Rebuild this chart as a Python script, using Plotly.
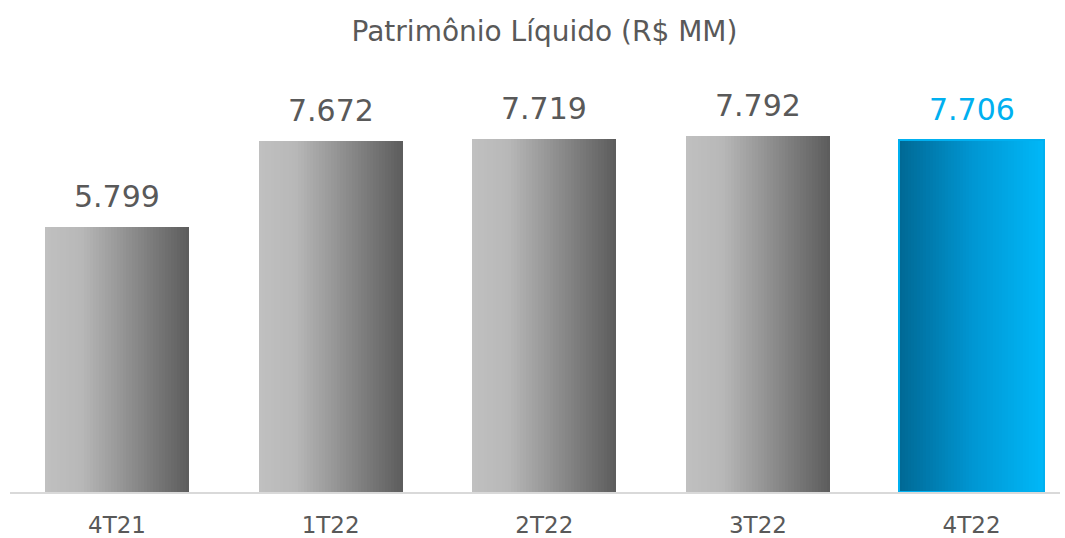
import plotly.graph_objects as go

categories = ["4T21", "1T22", "2T22", "3T22", "4T22"]
values = [5799, 7672, 7719, 7792, 7706]
labels = ["5.799", "7.672", "7.719", "7.792", "7.706"]
highlight = [False, False, False, False, True]

title = "Patrimônio Líquido (R$ MM)"
FONT = "DejaVu Sans"
TXT = "#595959"
BLUE = "#00b0f0"

gray_stops = [(0.0, (192, 192, 192)), (0.25, (184, 184, 184)), (1.0, (92, 92, 92))]
blue_stops = [(0.0, (0, 104, 148)), (0.5, (0, 150, 210)), (1.0, (0, 184, 248))]


def grad(stops, t):
    for (t0, c0), (t1, c1) in zip(stops[:-1], stops[1:]):
        if t0 <= t <= t1:
            f = 0 if t1 == t0 else (t - t0) / (t1 - t0)
            c = [round(a + (b - a) * f) for a, b in zip(c0, c1)]
            return "rgb(%d,%d,%d)" % tuple(c)
    c = stops[-1][1]
    return "rgb(%d,%d,%d)" % c


xs = list(range(len(categories)))
bw = 0.675
N = 48
sw = bw / N

fig = go.Figure()
for j in range(N):
    t = (j + 0.5) / N
    colors = [grad(blue_stops if h else gray_stops, t) for h in highlight]
    fig.add_trace(go.Bar(
        x=xs, y=values, width=sw * 1.2 if j < N - 1 else sw, offset=-bw / 2 + j * sw,
        marker=dict(color=colors, line=dict(width=0)),
        showlegend=False, hoverinfo="skip",
    ))

# outline for highlighted bar
fig.add_trace(go.Bar(
    x=xs, y=values, width=bw, offset=-bw / 2,
    marker=dict(color="rgba(0,0,0,0)",
                line=dict(color=[BLUE if h else "rgba(0,0,0,0)" for h in highlight],
                          width=[2 if h else 0 for h in highlight])),
    showlegend=False, hoverinfo="skip",
))

for x, v, lab, h in zip(xs, values, labels, highlight):
    fig.add_annotation(x=x, y=v, text=lab, showarrow=False, yanchor="bottom",
                       yshift=11, font=dict(family=FONT, size=30, color=BLUE if h else TXT))

fig.update_layout(
    width=1065, height=538,
    margin=dict(l=10, r=5, t=46, b=46, autoexpand=False),
    paper_bgcolor="white", plot_bgcolor="white",
    barmode="overlay", bargap=0,
    title=dict(text=title, x=544.5 / 1065, xanchor="center", xref="container",
               y=1 - 31 / 538, yanchor="middle", yref="container",
               font=dict(family=FONT, size=28, color=TXT)),
    xaxis=dict(range=[-0.5009, 4.414], tickmode="array", tickvals=xs, ticktext=categories,
               showline=True, linecolor="#d9d9d9", linewidth=2, showgrid=False, zeroline=False,
               automargin=False,
               ticks="", tickfont=dict(family=FONT, size=23, color=TXT), ticklabelstandoff=11),
    yaxis=dict(range=[0, 9750], visible=False, showgrid=False, zeroline=False, automargin=False),
)

fig.write_html("out.html", config={"displayModeBar": False},
               post_script="document.body.style.margin='0';document.body.style.overflow='hidden';")
